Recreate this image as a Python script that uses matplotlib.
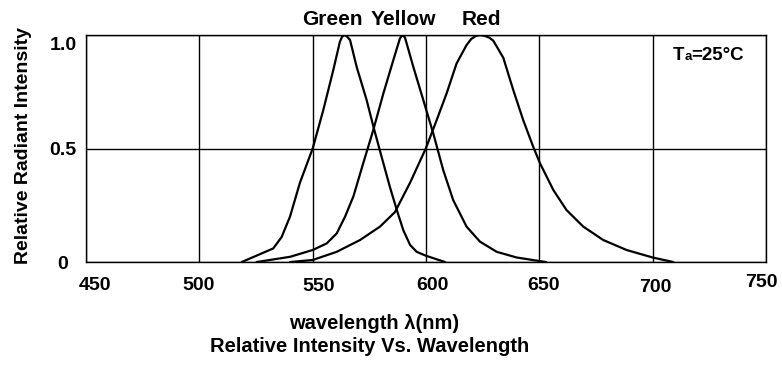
import matplotlib.pyplot as plt
from matplotlib.transforms import ScaledTranslation

plt.rcParams['font.family'] = ['Liberation Sans', 'DejaVu Sans']

# values
green_nm = [518.7, 532.6, 536.3, 540.0, 544.4, 550.0, 554.7, 559.1, 562.0, 563.0, 564.0,
            565.0, 566.5, 569.4, 573.8, 577.0, 580.4, 584.1, 587.1, 590.0, 593.0,
            595.9, 599.9, 608.4]
green_val = [0.0, 0.06, 0.11, 0.20, 0.35, 0.50, 0.67, 0.846, 0.97, 0.993, 1.0,
             0.995, 0.978, 0.86, 0.714, 0.589, 0.464, 0.33, 0.23, 0.14, 0.075,
             0.045, 0.028, 0.0]

yellow_nm = [525.3, 540.0, 550.0, 556.2, 560.6, 564.3, 568.0, 572.3, 576.7, 581.2, 585.6,
             588.5, 589.5, 590.7, 594.4, 598.8, 603.2, 607.6, 612.0, 617.9, 623.8,
             631.2, 640.0, 650.3, 653.0]
yellow_val = [0.0, 0.023, 0.053, 0.082, 0.126, 0.20, 0.29, 0.435, 0.58, 0.743, 0.89,
              0.985, 1.0, 0.99, 0.86, 0.714, 0.567, 0.405, 0.273, 0.156, 0.09,
              0.045, 0.02, 0.004, 0.0]

red_nm = [540.0, 550.0, 560.6, 570.9, 579.7, 586.3, 593.0, 599.9, 604.7, 609.1, 613.5,
          617.9, 620.0, 622.0, 624.0, 626.0, 628.0, 629.7, 634.1, 638.5, 642.9,
          647.3, 650.3, 656.2, 662.0, 669.4, 678.2, 688.5, 700.0, 709.1]
red_val = [0.0, 0.009, 0.045, 0.097, 0.156, 0.22, 0.35, 0.50, 0.625, 0.743, 0.875,
           0.956, 0.983, 0.996, 1.0, 0.996, 0.988, 0.975, 0.90, 0.758, 0.625,
           0.508, 0.435, 0.317, 0.229, 0.156, 0.097, 0.053, 0.02, 0.0]

x_ticks = [450, 500, 550, 600, 650, 700, 750]
x_tick_dx = [9, -1, 6, 6, 4, 2.5, -4.5]
x_tick_dy = [0, 0, -0.5, 0, 0, -1.5, 3]
y_ticks = [0, 0.5, 1.0]
y_tick_labels = ['0', '0.5', '1.0']
y_tick_dy = [0, 0, -8]
peak_names = ['Green', 'Yellow', 'Red']
peak_label_x = [558.7, 590.1, 624.5]

fig = plt.figure(figsize=(7.82, 3.67), dpi=100)
ax = fig.add_axes([0.110, 0.286, 0.8695, 0.6185])

for xs, ys in [(green_nm, green_val), (yellow_nm, yellow_val), (red_nm, red_val)]:
    ax.plot(xs, ys, color='black', linewidth=1.6, solid_joinstyle='round',
            solid_capstyle='round')

ax.set_xlim(450, 750)
ax.set_ylim(0, 1.0)
ax.set_xticks(x_ticks)
ax.set_yticks(y_ticks)
ax.set_yticklabels(y_tick_labels)
ax.tick_params(length=0, labelsize=14)
ax.tick_params(axis='x', pad=11)
ax.tick_params(axis='y', pad=16.5)
for lab in ax.get_xticklabels() + ax.get_yticklabels():
    lab.set_fontweight('bold')

# uneven placement of tick labels as in the reference
for lab, dx, dy in zip(ax.get_xticklabels(), x_tick_dx, x_tick_dy):
    lab.set_transform(lab.get_transform() + ScaledTranslation(dx / 100, dy / 100, fig.dpi_scale_trans))
for lab, dy in zip(ax.get_yticklabels(), y_tick_dy):
    lab.set_horizontalalignment('center')
    lab.set_transform(lab.get_transform() + ScaledTranslation(0, dy / 100, fig.dpi_scale_trans))

ax.grid(True, color='black', linewidth=1.0)
for s in ax.spines.values():
    s.set_linewidth(1.0)

for name, pos in zip(peak_names, peak_label_x):
    ax.text(pos, 1.044, name, ha='center', va='baseline', fontsize=15, fontweight='bold')

# T_a = 25°C, small "a" on the baseline
ax.text(714.0, 0.89, 'T', ha='right', va='baseline', fontsize=13.5, fontweight='bold')
ax.annotate('a', xy=(714.0, 0.89), xytext=(0, 0), textcoords='offset points',
            ha='left', va='baseline', fontsize=9.5, fontweight='bold')
ax.annotate('=25°C', xy=(714.0, 0.89), xytext=(5.3, 0), textcoords='offset points',
            ha='left', va='baseline', fontsize=13.5, fontweight='bold')

ax.set_ylabel('Relative Radiant Intensity', fontsize=14, fontweight='bold', va='center')
ax.yaxis.set_label_coords(-0.0926, 0.515)
fig.text(0.478, 0.1035, 'wavelength \u03bb(nm)', ha='center', va='baseline',
         fontsize=14.5, fontweight='bold')
fig.text(0.473, 0.0417, 'Relative Intensity Vs. Wavelength', ha='center', va='baseline',
         fontsize=14.5, fontweight='bold')

fig.savefig('out.png', dpi=100)
